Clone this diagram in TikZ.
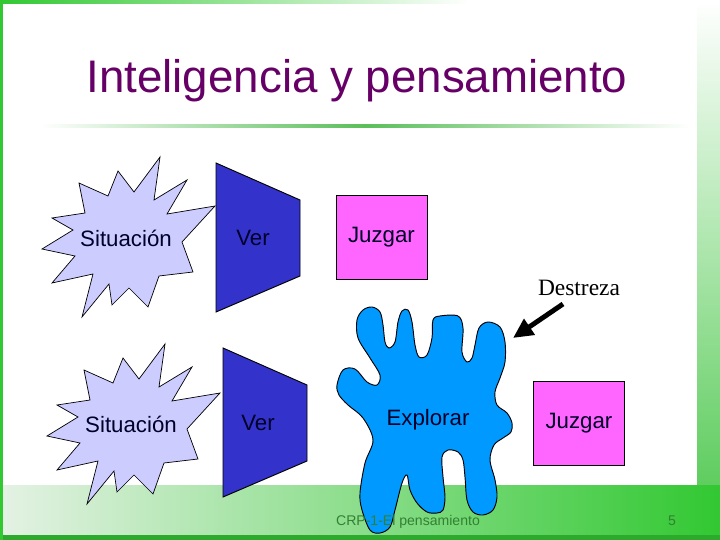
\documentclass[tikz,border=0pt]{standalone}
\usepackage{fontspec}
\setmainfont{Liberation Serif}
\setsansfont{Liberation Sans}
\usetikzlibrary{arrows.meta}
\usetikzlibrary{positioning}

\definecolor{titlePurple}{RGB}{102,0,102}
\definecolor{burstLilac}{RGB}{204,204,255}
\definecolor{verBlue}{RGB}{51,51,204}
\definecolor{juzgarPink}{RGB}{255,102,255}
\definecolor{blobBlue}{RGB}{0,153,255}
\definecolor{inkNavy}{RGB}{0,0,40}
\definecolor{slideGreen}{RGB}{50,200,50}
\definecolor{stripGreen}{RGB}{95,205,95}
\definecolor{lineGreen}{RGB}{90,190,90}
\definecolor{paleGreen}{RGB}{228,242,228}
\definecolor{footGreen}{RGB}{51,128,51}

\tikzset{%
  >={Triangle[width=5.5mm,length=6mm]},
  % Specifications for style of nodes:
          word/.style = {font=\sffamily\fontsize{19}{22}\selectfont,
                         text=inkNavy, inner sep=0pt},
     juzgarBox/.style = {word, rectangle, draw=black, line width=0.8pt,
                         fill=juzgarPink, minimum width=2.73cm,
                         minimum height=2.52cm},
     burstLine/.style = {draw=black, line width=0.6pt, fill=burstLilac},
    funnelLine/.style = {draw=black, line width=0.8pt, fill=verBlue},
      blobLine/.style = {draw=black, line width=0.8pt, fill=blobBlue},
        footer/.style = {font=\sffamily\fontsize{12}{14}\selectfont,
                         text=footGreen},
  % Shapes that come back twice
  burst/.pic = {
    \path[burstLine] (-48,-57) -- (-19,-44) -- (-9,-69) -- (7,-48)
      -- (33,-83) -- (27,-40) -- (60,-60) -- (40,-26) -- (88,-34)
      -- (55,2) -- (66,32) -- (32,36) -- (21,67) -- (2,48) -- (-15,65)
      -- (-18,44) -- (-45,77) -- (-34,34) -- (-75,43) -- (-52,16)
      -- (-85,9) -- (-54,-10) -- (-75,-22) -- (-42,-27) -- cycle;
  },
  funnel/.pic = {
    \path[funnelLine] (0,0) -- (84,37) -- (84,113) -- (0,149) -- cycle;
  },
}

\begin{document}
\begin{tikzpicture}[x=0.03cm, y=-0.03cm]
  \useasboundingbox (0,0) rectangle (720,540);

  % Slide background
  \fill[white] (0,0) rectangle (720,540);
  \shade[left color=slideGreen, right color=white] (0,0) rectangle (470,4);
  \shade[top color=white, bottom color=stripGreen] (697,0) rectangle (720,485);
  \shade[left color=paleGreen, right color=slideGreen] (0,485) rectangle (720,540);
  \fill[slideGreen!85!black] (0,535) rectangle (720,540);
  \fill[slideGreen] (0,0) rectangle (2.5,540);
  \shade[left color=white, right color=white, middle color=lineGreen]
    (40,124.5) rectangle (690,127.5);

  % Title
  \node (title) [anchor=base, font=\sffamily\fontsize{39}{46}\selectfont,
    text=titlePurple] at (357,93) {Inteligencia y pensamiento};

  % Upper row
  \pic at (127,240) {burst};
  \pic at (216,163) {funnel};
  \node (situacionA) [word] at (126,238) {Situación};
  \node (verA)       [word] at (253,238) {Ver};
  \node (juzgarA)    [juzgarBox] at (381.5,237) {Juzgar};

  % Lower row
  \pic at (132,427) {burst};
  \pic at (223,348) {funnel};
  \node (situacionB) [word] at (131,424) {Situación};
  \node (verB)       [word] at (258,423) {Ver};

  \path[blobLine] plot[smooth cycle, tension=0.55] coordinates {
    (337,385) (343,370) (355,369) (367,382) (377,385) (380,375) (370,358)
    (358,338) (357,320) (363,310) (372,307) (380,312) (383,325) (385,342)
    (389,348) (395,342) (398,322) (402,311) (408,310) (412,322) (415,345)
    (419,357) (427,355) (432,338) (433,320) (440,316) (458,316) (463,328)
    (462,352) (467,362) (472,358) (475,345) (479,328) (488,322) (500,327)
    (505,342) (505,362) (500,378) (495,392) (497,405) (507,413) (512,423)
    (511,432) (503,438) (494,445) (490,460) (495,480) (497,497) (493,510)
    (483,515) (473,512) (467,500) (465,477) (463,460) (458,452) (448,450)
    (442,457) (443,477) (445,497) (443,510) (437,513) (427,512) (417,503)
    (410,490) (407,475) (402,483) (395,510) (390,527) (380,533) (370,530)
    (362,510) (360,493) (365,463) (373,440) (363,418) (348,405) (339,395)};
  \node (explorar) [word] at (428,420) {Explorar};
  \node (juzgarB)  [juzgarBox] at (579,423.5) {Juzgar};

  % Label and its arrow
  \node (destreza) [anchor=base, font=\fontsize{20}{24}\selectfont]
    at (579,296) {Destreza};
  \coordinate (arrowTail) at (563,304);
  \coordinate (arrowTip)  at (513,338);
  \draw[->, line width=4.2pt] (arrowTail) -- (arrowTip);

  % Footer
  \node (footnote) [footer] at (408,522) {CRP-1-El pensamiento};
  \node (pageNo)   [footer] at (672,521) {5};
\end{tikzpicture}
\end{document}
